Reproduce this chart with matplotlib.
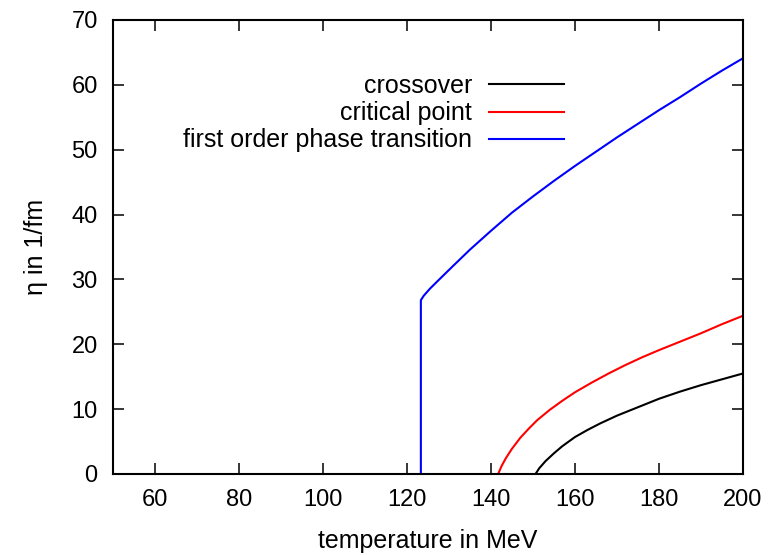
"""
Viscosity-like coefficient eta vs temperature for three transition scenarios.
"""

import matplotlib
matplotlib.use("Agg")
import matplotlib.pyplot as plt

plt.rcParams["font.family"] = ["Liberation Sans", "DejaVu Sans"]

# ------------------------------------------------------------------
# Data
# ------------------------------------------------------------------

crossover_T = [150.6, 151.5, 153.0, 155.0, 157.0, 160.0, 163.0, 166.0, 170.0, 175.0,
               180.0, 185.0, 190.0, 195.0, 200.0]
crossover_eta = [0.0, 0.9, 2.0, 3.2, 4.3, 5.7, 6.8, 7.8, 9.0, 10.3,
                 11.6, 12.7, 13.7, 14.6, 15.5]

critical_T = [141.7, 142.5, 143.5, 145.0, 147.0, 149.0, 151.0, 154.0, 157.0, 160.0,
              164.0, 168.0, 172.0, 176.0, 180.0, 185.0, 190.0, 195.0, 200.0]
critical_eta = [0.0, 1.2, 2.4, 3.9, 5.6, 7.0, 8.3, 9.9, 11.3, 12.6,
                14.1, 15.5, 16.8, 18.0, 19.1, 20.4, 21.7, 23.1, 24.4]

first_order_T = [123.3, 123.3, 124.0, 125.5, 128.0, 131.0, 135.0, 140.0, 145.0, 150.0,
                 155.0, 160.0, 165.0, 170.0, 175.0, 180.0, 185.0, 190.0, 195.0, 200.0]
first_order_eta = [0.0, 26.8, 27.5, 28.6, 30.2, 32.1, 34.6, 37.5, 40.3, 42.8,
                   45.2, 47.5, 49.7, 51.9, 54.0, 56.1, 58.1, 60.2, 62.2, 64.1]

X_TICKS = [60, 80, 100, 120, 140, 160, 180, 200]
Y_TICKS = [0, 10, 20, 30, 40, 50, 60, 70]

# ------------------------------------------------------------------
# Figure
# ------------------------------------------------------------------

fig = plt.figure(figsize=(7.71, 5.55), dpi=100)
ax = fig.add_axes([113 / 771, 81 / 555, 630 / 771, 454 / 555])

lw = 1.5
ax.plot(crossover_T, crossover_eta, color="black", linewidth=lw, label="crossover")
ax.plot(critical_T, critical_eta, color="#ff0000", linewidth=lw, label="critical point")
ax.plot(first_order_T, first_order_eta, color="#0000ff", linewidth=lw,
        label="first order phase transition")

ax.set_xlim(50, 200)
ax.set_ylim(0, 70)
ax.set_xticks(X_TICKS)
ax.set_yticks(Y_TICKS)
ax.tick_params(direction="in", length=8, width=1.1, top=True, right=True,
               labelsize=17)
ax.tick_params(axis="x", pad=11)
ax.tick_params(axis="y", pad=11)
for s in ax.spines.values():
    s.set_linewidth(1.5)

ax.set_xlabel("temperature in MeV", fontsize=18, labelpad=13)
ax.set_ylabel("η in 1/fm", fontsize=18, labelpad=17)

leg = ax.legend(loc="upper right", bbox_to_anchor=(564 / 771, 1 - 74 / 555),
                bbox_transform=fig.transFigure, frameon=False, markerfirst=False,
                fontsize=18, handlelength=3.0, handletextpad=0.68,
                labelspacing=0.13, borderpad=0, borderaxespad=0)

fig.savefig("out.png", dpi=100)
